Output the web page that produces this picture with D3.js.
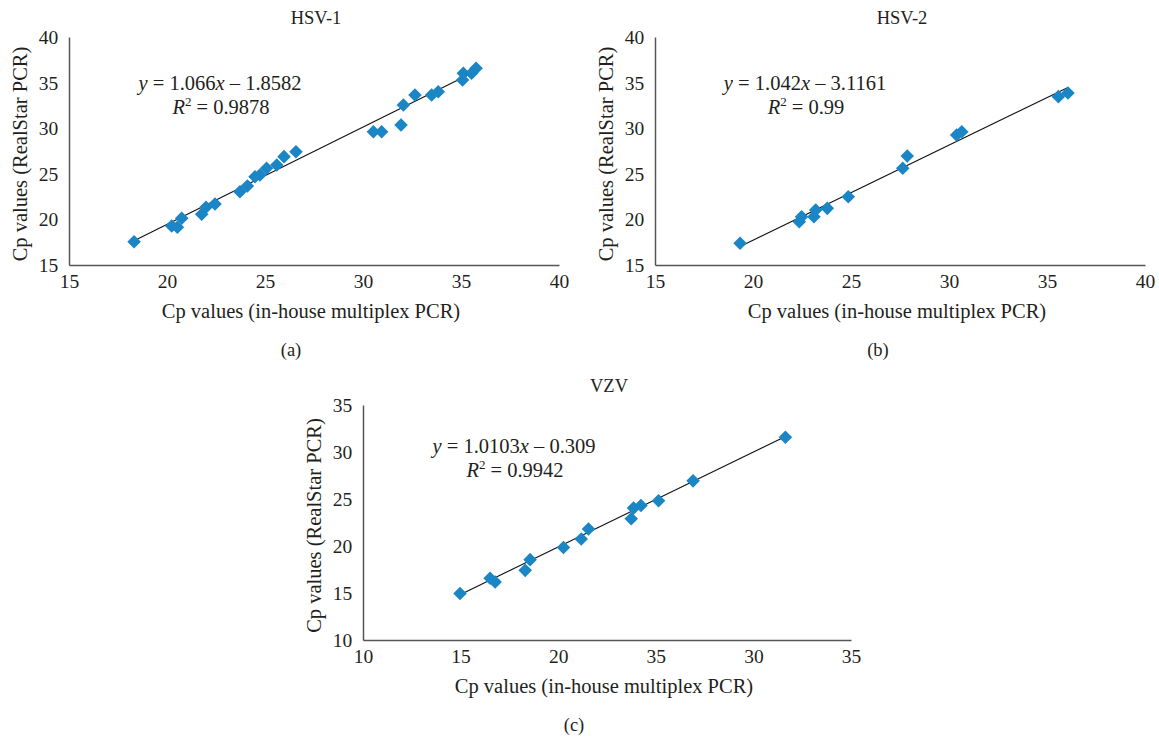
<!DOCTYPE html>
<html>
<head>
<meta charset="utf-8">
<script src="https://cdn.jsdelivr.net/npm/d3@7"></script>
<style>
  html, body { margin: 0; padding: 0; background: #fff; }
  svg { display: block; }
  text { font-family: "Liberation Serif", "DejaVu Serif", serif; fill: #231f20; }
</style>
</head>
<body>
<svg id="viz"></svg>
<script>
// --- Data ---
const hsv1X = [18.32, 20.24, 20.53, 20.75, 21.77, 21.99, 22.45, 23.72, 24.10, 24.49, 24.74, 25.08, 25.60, 25.97, 26.58,
               30.53, 30.95, 31.94, 32.06, 32.65, 33.50, 33.84, 35.08, 35.12, 35.54, 35.77];
const hsv1Y = [17.55, 19.28, 19.13, 20.12, 20.56, 21.33, 21.69, 23.04, 23.66, 24.68, 24.87, 25.60, 25.96, 26.88, 27.42,
               29.62, 29.62, 30.35, 32.54, 33.64, 33.64, 34.00, 35.29, 36.02, 36.02, 36.57];

const hsv2X = [19.34, 22.36, 22.48, 23.11, 23.20, 23.79, 24.86, 27.64, 27.87, 30.39, 30.65, 35.58, 36.07];
const hsv2Y = [17.38, 19.75, 20.30, 20.30, 21.03, 21.21, 22.49, 25.60, 26.95, 29.25, 29.62, 33.46, 33.86];

const vzvX = [14.97, 16.51, 16.77, 18.31, 18.56, 20.27, 21.18, 21.55, 23.74, 23.86, 24.24, 25.14, 26.91, 31.64];
const vzvY = [14.94, 16.56, 16.18, 17.41, 18.55, 19.85, 20.74, 21.80, 22.90, 24.03, 24.31, 24.81, 26.93, 31.57];

// trendline slope / intercept / R²
const hsv1Fit = [1.066, -1.8582, "1.066", "1.8582", "0.9878"];
const hsv2Fit = [1.042, -3.1161, "1.042", "3.1161", "0.99"];
const vzvFit  = [1.0103, -0.309, "1.0103", "0.309", "0.9942"];

const hsvTicks = [15, 20, 25, 30, 35, 40];
const vzvTicks = [10, 15, 20, 25, 30, 35];
const hsvTickLabels = ["15", "20", "25", "30", "35", "40"];
const vzvXTickLabels = ["10", "15", "20", "35", "30", "35"];   // as printed in the figure
const vzvYTickLabels = ["10", "15", "20", "25", "30", "35"];

const width = 1159;
const height = 739;
const blue = "#1a86c6";
const axisColor = "#555";

const svg = d3.select("#viz")
  .attr("width", width)
  .attr("height", height);

function drawPanel(p) {
  const x = d3.scaleLinear().domain(p.domain).range([p.left, p.right]);
  const y = d3.scaleLinear().domain(p.domain).range([p.bottom, p.top]);
  const g = svg.append("g");

  // --- Axes (no tick marks, just the lines and labels) ---
  const xAxis = d3.axisBottom(x).tickValues(p.ticks).tickSize(0).tickSizeOuter(0)
    .tickFormat((d, i) => p.xLabels[i]);
  const yAxis = d3.axisLeft(y).tickValues(p.ticks).tickSize(0).tickSizeOuter(0)
    .tickFormat((d, i) => p.yLabels[i]);

  const gx = g.append("g").attr("transform", `translate(0,${p.bottom})`).call(xAxis);
  const gy = g.append("g").attr("transform", `translate(${p.left},0)`).call(yAxis);
  [gx, gy].forEach(a => {
    a.select(".domain").attr("stroke", axisColor).attr("stroke-width", 1.5);
    a.selectAll("text").attr("font-size", 19.5).attr("fill", "#231f20")
      .attr("font-family", "Liberation Serif, serif");
  });
  gx.selectAll("text").attr("dy", "1.0em");
  gy.selectAll("text").attr("dx", "-0.4em").attr("dy", "0.33em");

  // --- Titles ---
  g.append("text")
    .attr("x", (p.left + p.right) / 2 + 2)
    .attr("y", p.top - 13)
    .attr("text-anchor", "middle")
    .attr("font-size", 18.5)
    .text(p.title);

  g.append("text")
    .attr("x", (p.left + p.right) / 2 - 3)
    .attr("y", p.bottom + 53)
    .attr("text-anchor", "middle")
    .attr("font-size", 20.5)
    .text("Cp values (in-house multiplex PCR)");

  g.append("text")
    .attr("transform", `translate(${p.left - 42},${(p.top + p.bottom) / 2 + 3}) rotate(-90)`)
    .attr("text-anchor", "middle")
    .attr("font-size", 20.5)
    .text("Cp values (RealStar PCR)");

  g.append("text")
    .attr("x", p.tagX)
    .attr("y", p.bottom + 91)
    .attr("text-anchor", "middle")
    .attr("font-size", 18.5)
    .text(p.tag);

  // --- Trendline ---
  const [m, b] = p.fit;
  const x0 = d3.min(p.xs), x1 = d3.max(p.xs);
  g.append("line")
    .attr("x1", x(x0)).attr("y1", y(m * x0 + b))
    .attr("x2", x(x1)).attr("y2", y(m * x1 + b))
    .attr("stroke", "#111")
    .attr("stroke-width", 1.1);

  // --- Points (diamonds) ---
  const pts = p.xs.map((v, i) => ({ x: v, y: p.ys[i] }));
  g.append("g")
    .selectAll("path")
    .data(pts)
    .join("path")
    .attr("d", d3.symbol(d3.symbolSquare, 92))
    .attr("transform", d => `translate(${x(d.x)},${y(d.y)}) rotate(45)`)
    .attr("fill", blue);

  // --- Equation ---
  const eq = g.append("text")
    .attr("x", p.eqX)
    .attr("y", p.eqY)
    .attr("text-anchor", "middle")
    .attr("font-size", 20.5);
  eq.append("tspan").attr("font-style", "italic").text("y");
  eq.append("tspan").text(` = ${p.fit[2]}`);
  eq.append("tspan").attr("font-style", "italic").text("x");
  eq.append("tspan").text(` \u2013 ${p.fit[3]}`);

  const r2 = g.append("text")
    .attr("x", p.eqX + 1)
    .attr("y", p.eqY + 24)
    .attr("text-anchor", "middle")
    .attr("font-size", 20.5);
  r2.append("tspan").attr("font-style", "italic").text("R");
  r2.append("tspan").attr("font-size", 13).attr("dy", -8).text("2");
  r2.append("tspan").attr("dy", 8).text(` = ${p.fit[4]}`);
}

drawPanel({
  title: "HSV-1", tag: "(a)", tagX: 291,
  left: 69, right: 559, top: 37, bottom: 265,
  domain: [15, 40], ticks: hsvTicks, xLabels: hsvTickLabels, yLabels: hsvTickLabels,
  xs: hsv1X, ys: hsv1Y, fit: hsv1Fit, eqX: 220, eqY: 90
});

drawPanel({
  title: "HSV-2", tag: "(b)", tagX: 878,
  left: 655, right: 1145, top: 37, bottom: 265,
  domain: [15, 40], ticks: hsvTicks, xLabels: hsvTickLabels, yLabels: hsvTickLabels,
  xs: hsv2X, ys: hsv2Y, fit: hsv2Fit, eqX: 805, eqY: 90
});

drawPanel({
  title: "VZV", tag: "(c)", tagX: 574,
  left: 363, right: 851, top: 405, bottom: 640,
  domain: [10, 35], ticks: vzvTicks, xLabels: vzvXTickLabels, yLabels: vzvYTickLabels,
  xs: vzvX, ys: vzvY, fit: vzvFit, eqX: 514, eqY: 453
});
</script>
</body>
</html>
